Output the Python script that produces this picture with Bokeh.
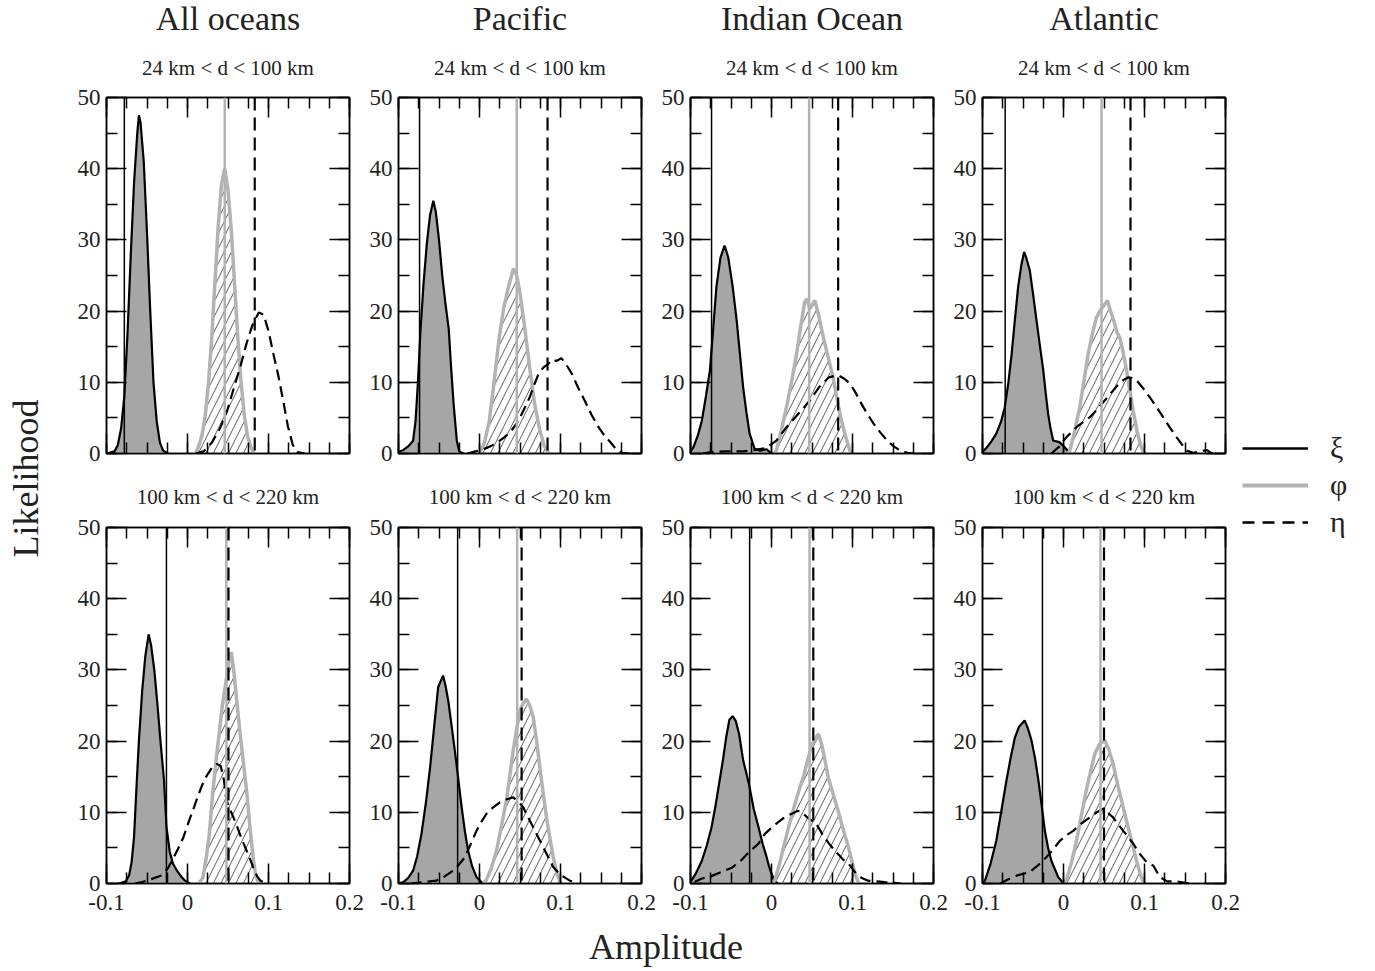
import math
from bokeh.plotting import figure
from bokeh.layouts import row, column
from bokeh.models import (Range1d, FixedTicker, LinearAxis, Span, Legend,
                          LegendItem)
from bokeh.core.properties import value
from bokeh.embed import file_html
from bokeh.resources import INLINE

FONT = "Liberation Serif"

OCEANS = ["All oceans", "Pacific", "Indian Ocean", "Atlantic"]
BANDS = ["24 km < d < 100 km", "100 km < d < 220 km"]
X_TICKS = [-0.1, 0, 0.1, 0.2]
X_TICK_LABELS = ["-0.1", "0", "0.1", "0.2"]
X_MINOR = [-0.1, -0.075, -0.05, -0.025, 0, 0.025, 0.05, 0.075, 0.1, 0.125, 0.15, 0.175, 0.2]
Y_TICKS = [0, 10, 20, 30, 40, 50]
Y_MINOR = [0, 5, 10, 15, 20, 25, 30, 35, 40, 45, 50]
SYMBOLS = ["ξ", "φ", "η"]
X_LABEL = "Amplitude"
Y_LABEL = "Likelihood"

# vertical reference values: [row][column]
XI_REF = [[-0.078, -0.074, -0.074, -0.072], [-0.026, -0.027, -0.027, -0.026]]
PHI_REF = [[0.046, 0.046, 0.0465, 0.047], [0.048, 0.0465, 0.047, 0.0457]]
ETA_REF = [[0.083, 0.084, 0.0823, 0.0827], [0.0506, 0.052, 0.0516, 0.050]]

# ---------------- 24 km < d < 100 km ----------------
XI_ALL_24_X = [-0.100, -0.090, -0.086, -0.082, -0.078, -0.074, -0.070, -0.066, -0.062, -0.060, -0.058, -0.054, -0.050, -0.046, -0.042, -0.038, -0.034, -0.030, -0.024]
XI_ALL_24_Y = [0, 0.3, 1.2, 3.5, 8, 17, 28, 38, 45, 47.5, 46.5, 41, 31, 20, 10, 4.5, 1.5, 0.4, 0]
PHI_ALL_24_X = [0.010, 0.014, 0.018, 0.022, 0.026, 0.030, 0.034, 0.038, 0.042, 0.046, 0.050, 0.054, 0.058, 0.062, 0.066, 0.070, 0.074, 0.078, 0.082]
PHI_ALL_24_Y = [0, 1.1, 2.6, 5.4, 10, 16.4, 24.3, 32, 37.8, 40, 37, 31.5, 24, 16.5, 10.2, 5.5, 2.5, 1, 0]
ETA_ALL_24_X = [0.010, 0.020, 0.030, 0.040, 0.049, 0.058, 0.065, 0.073, 0.080, 0.088, 0.094, 0.100, 0.106, 0.112, 0.118, 0.124, 0.130, 0.136, 0.145]
ETA_ALL_24_Y = [0, 0.3, 1.5, 3.5, 6, 9.5, 12.1, 15.5, 18, 19.8, 19.5, 17.2, 14, 11, 7.5, 3.8, 1.2, 0.2, 0]

XI_PAC_24_X = [-0.100, -0.094, -0.088, -0.082, -0.079, -0.076, -0.073, -0.069, -0.065, -0.061, -0.057, -0.054, -0.050, -0.046, -0.042, -0.038, -0.035, -0.032, -0.028, -0.025, -0.020]
XI_PAC_24_Y = [0.2, 0.5, 1, 1.8, 4.5, 10, 17, 24, 29.5, 33.5, 35.5, 34, 30, 25, 21, 17.5, 12, 7, 1.8, 0.3, 0]
PHI_PAC_24_X = [0.000, 0.006, 0.012, 0.018, 0.024, 0.030, 0.036, 0.042, 0.046, 0.050, 0.056, 0.062, 0.068, 0.074, 0.080, 0.086]
PHI_PAC_24_Y = [0, 1.5, 4.5, 10, 16, 20.5, 23.5, 26, 25, 22.5, 17.5, 12, 7, 3.5, 1, 0]
ETA_PAC_24_X = [-0.015, -0.005, 0.005, 0.015, 0.025, 0.031, 0.040, 0.048, 0.055, 0.062, 0.068, 0.073, 0.079, 0.085, 0.090, 0.095, 0.101, 0.107, 0.114, 0.122, 0.130, 0.138, 0.147, 0.155, 0.163, 0.170, 0.176, 0.185]
ETA_PAC_24_Y = [0, 0.3, 0.6, 1.1, 1.8, 2.3, 3.3, 4.6, 6.2, 7.9, 9.8, 11.2, 12.1, 12.6, 13.2, 13.0, 13.4, 12.5, 11.2, 9.2, 7.4, 5.5, 3.7, 2.4, 1.4, 0.4, 0.1, 0]

XI_IND_24_X = [-0.100, -0.096, -0.091, -0.086, -0.081, -0.076, -0.072, -0.068, -0.063, -0.058, -0.0535, -0.048, -0.043, -0.039, -0.035, -0.031, -0.027, -0.021, -0.014, -0.006, 0.000]
XI_IND_24_Y = [0.2, 1, 2.5, 4.6, 8, 11.7, 17.5, 23.4, 27.5, 29.2, 27.6, 23.5, 18.7, 14, 9.3, 5.8, 2.8, 0.7, 0.4, 0.6, 0]
PHI_IND_24_X = [0.003, 0.006, 0.012, 0.0185, 0.025, 0.031, 0.036, 0.041, 0.044, 0.047, 0.050, 0.0535, 0.058, 0.064, 0.070, 0.076, 0.081, 0.0864, 0.092, 0.0967, 0.100]
PHI_IND_24_Y = [0, 0.4, 3.2, 6.5, 10.2, 14, 17.8, 21.3, 21.7, 20.3, 20.8, 21.5, 19.5, 16.3, 13.5, 10.7, 7.6, 4.6, 2.2, 0.4, 0]
ETA_IND_24_X = [-0.085, -0.075, -0.055, -0.035, -0.020, -0.006, 0.006, 0.0185, 0.031, 0.039, 0.047, 0.0587, 0.071, 0.0823, 0.090, 0.097, 0.103, 0.109, 0.117, 0.126, 0.134, 0.143, 0.151, 0.159, 0.168, 0.175]
ETA_IND_24_Y = [0, 0.2, 0.3, 0.3, 0.5, 0.8, 1.8, 3.7, 5.3, 6.3, 7.4, 9.3, 10.7, 11, 10.5, 9.8, 8.7, 7.4, 5.8, 4.2, 3, 1.8, 1, 0.4, 0.1, 0]

XI_ATL_24_X = [-0.100, -0.095, -0.089, -0.083, -0.077, -0.0725, -0.068, -0.064, -0.060, -0.056, -0.052, -0.0486, -0.046, -0.0416, -0.0375, -0.0333, -0.029, -0.025, -0.022, -0.019, -0.016, -0.0127, -0.005, 0.002, 0.008]
XI_ATL_24_Y = [0.2, 0.8, 1.7, 2.8, 4.5, 6.5, 10, 14, 18.8, 23.4, 26.5, 28.3, 27.5, 25.7, 22.3, 18.7, 15, 11.7, 8.5, 5.6, 3.5, 1.8, 1.6, 0.8, 0]
PHI_ATL_24_X = [0.005, 0.0078, 0.014, 0.020, 0.025, 0.0305, 0.036, 0.0407, 0.046, 0.050, 0.0543, 0.058, 0.062, 0.066, 0.0695, 0.074, 0.0778, 0.082, 0.086, 0.091, 0.096, 0.100]
PHI_ATL_24_Y = [0, 0.4, 3.2, 6.5, 10, 14, 17, 19.1, 20.2, 20.8, 21.5, 20, 18.7, 17, 16.3, 14, 11.7, 8.8, 6, 3, 0.9, 0]
ETA_ATL_24_X = [-0.015, -0.005, 0.0037, 0.010, 0.016, 0.024, 0.0325, 0.041, 0.049, 0.055, 0.061, 0.067, 0.0737, 0.080, 0.085, 0.090, 0.098, 0.1066, 0.115, 0.123, 0.131, 0.1395, 0.146, 0.152, 0.160, 0.170, 0.1765, 0.182, 0.190]
ETA_ATL_24_Y = [0, 1, 2.3, 3, 3.7, 4.4, 5.1, 6.1, 7.2, 8, 8.8, 9.6, 10.3, 10.7, 10.6, 10.3, 9.2, 7.9, 6.5, 5.1, 3.7, 2.3, 1.3, 0.4, 0.1, 0.3, 0.5, 0.1, 0]

# ---------------- 100 km < d < 220 km ----------------
XI_ALL_100_X = [-0.085, -0.076, -0.072, -0.069, -0.066, -0.063, -0.060, -0.056, -0.052, -0.048, -0.045, -0.041, -0.037, -0.033, -0.029, -0.026, -0.022, -0.018, -0.013, -0.008, -0.003, 0.003]
XI_ALL_100_Y = [0, 0.3, 1.2, 3, 6.5, 13.5, 20, 27, 32, 35, 33.5, 30, 25, 19.5, 14.5, 8, 4.5, 2.8, 1.8, 1, 0.4, 0]
PHI_ALL_100_X = [0.014, 0.019, 0.023, 0.027, 0.031, 0.035, 0.039, 0.043, 0.047, 0.051, 0.054, 0.057, 0.061, 0.065, 0.069, 0.073, 0.077, 0.081, 0.084, 0.088]
PHI_ALL_100_Y = [0, 0.8, 3.5, 7, 12.5, 17, 21, 25, 28, 31, 32.5, 30, 25.5, 21, 17, 13, 8, 3.7, 1.2, 0]
ETA_ALL_100_X = [-0.065, -0.056, -0.045, -0.033, -0.025, -0.019, -0.012, -0.005, 0.001, 0.008, 0.013, 0.018, 0.024, 0.030, 0.036, 0.041, 0.045, 0.048, 0.054, 0.060, 0.066, 0.073, 0.078, 0.081, 0.086, 0.090, 0.098]
ETA_ALL_100_Y = [0, 0.2, 0.6, 1.1, 2, 3.2, 4.8, 6.5, 8.5, 10.7, 12.3, 13.8, 15.2, 16.2, 16.8, 16.5, 14.5, 11.7, 10, 8.4, 6.5, 4.6, 3.2, 2.3, 1, 0.4, 0]

XI_PAC_100_X = [-0.100, -0.094, -0.088, -0.082, -0.077, -0.0716, -0.066, -0.061, -0.056, -0.051, -0.045, -0.042, -0.0386, -0.0345, -0.0305, -0.026, -0.022, -0.018, -0.014, -0.009, -0.0037, 0.004]
XI_PAC_100_Y = [0, 0.2, 0.8, 1.8, 3.8, 7, 11.5, 16.3, 22, 27.6, 29.2, 27.8, 25.7, 22.2, 18.7, 14.5, 10.7, 7.3, 4.6, 2.4, 0.9, 0]
PHI_PAC_100_X = [0.005, 0.0086, 0.015, 0.021, 0.027, 0.0333, 0.0375, 0.0416, 0.046, 0.0498, 0.054, 0.058, 0.062, 0.0663, 0.0705, 0.0745, 0.0786, 0.0827, 0.087, 0.091, 0.095, 0.099, 0.102]
PHI_PAC_100_Y = [0, 0.5, 2.3, 4.6, 8, 11.7, 15.2, 18.7, 21.7, 24.3, 25.3, 25.9, 25, 23.4, 20, 16.3, 12.7, 9.3, 6.3, 3.7, 1.7, 0.3, 0]
ETA_PAC_100_X = [-0.085, -0.070, -0.053, -0.043, -0.0325, -0.025, -0.018, -0.011, -0.0037, 0.0025, 0.0086, 0.017, 0.025, 0.033, 0.0416, 0.048, 0.054, 0.060, 0.0663, 0.0725, 0.0786, 0.085, 0.091, 0.100, 0.1116, 0.120]
ETA_PAC_100_Y = [0, 0.2, 0.4, 1, 1.8, 2.7, 3.7, 5.5, 7.4, 8.7, 9.8, 10.7, 11.4, 11.8, 12.1, 11.5, 10.7, 9.3, 7.9, 6.5, 5.1, 3.7, 2.3, 1.2, 0.4, 0]

XI_IND_100_X = [-0.100, -0.093, -0.086, -0.080, -0.074, -0.069, -0.064, -0.060, -0.056, -0.052, -0.048, -0.044, -0.040, -0.035, -0.031, -0.027, -0.022, -0.016, -0.011, -0.006, -0.003, 0.000, 0.004, 0.008]
XI_IND_100_Y = [0.2, 1.5, 3.2, 5.3, 7.9, 11, 14.5, 17.3, 20.5, 23, 23.5, 22.8, 21, 17.3, 15.5, 13.5, 10.5, 7.9, 5.6, 3.7, 2.4, 1.4, 0.3, 0]
PHI_IND_100_X = [0.000, 0.004, 0.010, 0.016, 0.022, 0.029, 0.035, 0.040, 0.045, 0.050, 0.055, 0.058, 0.062, 0.066, 0.070, 0.076, 0.082, 0.088, 0.095, 0.100, 0.104, 0.108]
PHI_IND_100_Y = [0, 0.4, 2.8, 5.6, 8.3, 11.2, 13.5, 15.2, 17.5, 19.5, 20.5, 21, 19.5, 17.3, 14.9, 12.6, 10.3, 7.8, 5.1, 2.8, 1, 0]
ETA_IND_100_X = [-0.095, -0.086, -0.075, -0.062, -0.049, -0.037, -0.027, -0.016, -0.008, 0.001, 0.008, 0.016, 0.025, 0.032, 0.037, 0.043, 0.050, 0.054, 0.063, 0.071, 0.080, 0.088, 0.095, 0.103, 0.111, 0.119, 0.130, 0.140, 0.152, 0.160]
ETA_IND_100_Y = [0.2, 0.7, 1, 1.6, 2.2, 3.3, 4.5, 5.6, 7, 7.9, 8.6, 9.3, 9.8, 10.2, 10.1, 9.4, 8.8, 8.6, 6.9, 5.6, 4.4, 3.4, 2.8, 1.6, 0.8, 0.4, 0.3, 0.2, 0.1, 0]

XI_ATL_100_X = [-0.100, -0.097, -0.090, -0.083, -0.077, -0.0704, -0.065, -0.060, -0.055, -0.048, -0.044, -0.0395, -0.035, -0.031, -0.027, -0.023, -0.019, -0.015, -0.0065, 0.000]
XI_ATL_100_Y = [0, 0.4, 2.8, 6, 10, 14.5, 17.8, 20.5, 22, 22.9, 21.8, 20.1, 17.5, 14.5, 11, 7.4, 5, 3.2, 0.9, 0]
PHI_ATL_100_X = [0.000, 0.0037, 0.010, 0.016, 0.022, 0.028, 0.034, 0.0386, 0.044, 0.051, 0.056, 0.0613, 0.067, 0.0737, 0.080, 0.086, 0.091, 0.096, 0.100]
PHI_ATL_100_Y = [0, 0.5, 3, 6, 9.5, 13, 16, 18.2, 19.5, 20.1, 18.8, 16.8, 13.8, 10.7, 7.8, 5.1, 2.8, 0.9, 0]
ETA_ATL_100_X = [-0.078, -0.070, -0.058, -0.042, -0.031, -0.021, -0.012, -0.0045, 0.004, 0.012, 0.022, 0.0325, 0.041, 0.049, 0.055, 0.061, 0.067, 0.0737, 0.080, 0.086, 0.094, 0.1025, 0.111, 0.119, 0.128, 0.140, 0.150, 0.160]
ETA_ATL_100_Y = [0, 0.5, 1.1, 1.6, 2.6, 3.7, 4.9, 6, 6.8, 7.4, 8.4, 9.3, 10, 10.5, 9.9, 9.3, 8.4, 7.4, 6.5, 5.6, 4.2, 3, 2.5, 0.9, 0.3, 0.3, 0.1, 0]

CURVES = [
    [
        ((XI_ALL_24_X, XI_ALL_24_Y), (PHI_ALL_24_X, PHI_ALL_24_Y), (ETA_ALL_24_X, ETA_ALL_24_Y)),
        ((XI_PAC_24_X, XI_PAC_24_Y), (PHI_PAC_24_X, PHI_PAC_24_Y), (ETA_PAC_24_X, ETA_PAC_24_Y)),
        ((XI_IND_24_X, XI_IND_24_Y), (PHI_IND_24_X, PHI_IND_24_Y), (ETA_IND_24_X, ETA_IND_24_Y)),
        ((XI_ATL_24_X, XI_ATL_24_Y), (PHI_ATL_24_X, PHI_ATL_24_Y), (ETA_ATL_24_X, ETA_ATL_24_Y)),
    ],
    [
        ((XI_ALL_100_X, XI_ALL_100_Y), (PHI_ALL_100_X, PHI_ALL_100_Y), (ETA_ALL_100_X, ETA_ALL_100_Y)),
        ((XI_PAC_100_X, XI_PAC_100_Y), (PHI_PAC_100_X, PHI_PAC_100_Y), (ETA_PAC_100_X, ETA_PAC_100_Y)),
        ((XI_IND_100_X, XI_IND_100_Y), (PHI_IND_100_X, PHI_IND_100_Y), (ETA_IND_100_X, ETA_IND_100_Y)),
        ((XI_ATL_100_X, XI_ATL_100_Y), (PHI_ATL_100_X, PHI_ATL_100_Y), (ETA_ATL_100_X, ETA_ATL_100_Y)),
    ],
]

XI_FILL = "#a6a6a6"
PHI_COLOR = "#b3b3b3"
ETA_DASH = "11 6"
TICK_FONT_SIZE = "23px"
TEXT_COLOR = "#222222"

# layout geometry (pixels)
FRAME_W, FRAME_H = 243, 356
BORDER_L, BORDER_R = 34, 15
BORDER_V = 16
PANEL_W = BORDER_L + FRAME_W + BORDER_R
GRID_W = 4 * PANEL_W
COL_CENTERS = [BORDER_L + FRAME_W / 2 + PANEL_W * c for c in range(4)]


def style_axis(ax, ticks, minor, show_labels, standoff=10, overrides=None):
    ax.ticker = FixedTicker(ticks=ticks, minor_ticks=minor)
    ax.major_tick_in = 20
    ax.major_tick_out = 0
    ax.minor_tick_in = 11
    ax.minor_tick_out = 0
    ax.axis_line_color = "black"
    ax.axis_line_width = 1.5
    ax.major_tick_line_color = "black"
    ax.major_tick_line_width = 1.5
    ax.minor_tick_line_color = "black"
    ax.minor_tick_line_width = 1.5
    ax.major_label_text_font = FONT
    if show_labels:
        ax.major_label_text_font_size = TICK_FONT_SIZE
        ax.major_label_text_color = TEXT_COLOR
        ax.major_label_standoff = standoff
        if overrides:
            ax.major_label_overrides = overrides
    else:
        ax.major_label_text_font_size = "1px"
        ax.major_label_text_color = None
        ax.major_label_standoff = 0


def make_panel(r, c):
    top = r == 0
    p = figure(frame_width=FRAME_W, frame_height=FRAME_H,
               x_range=Range1d(-0.1, 0.2), y_range=Range1d(0, 50),
               x_axis_type=None, y_axis_type=None,
               output_backend="svg", toolbar_location=None,
               min_border_left=BORDER_L, min_border_right=BORDER_R,
               min_border_top=BORDER_V, min_border_bottom=BORDER_V if top else 42)
    p.outline_line_color = "black"
    p.outline_line_width = 1.5
    p.background_fill_color = "white"
    p.border_fill_color = "white"

    xover = {t: s for t, s in zip(X_TICKS, X_TICK_LABELS)}
    bottom = LinearAxis()
    style_axis(bottom, X_TICKS, X_MINOR, not top, standoff=11, overrides=xover)
    p.add_layout(bottom, "below")
    left = LinearAxis()
    style_axis(left, Y_TICKS, Y_MINOR, True, standoff=6)
    p.add_layout(left, "left")
    above = LinearAxis()
    style_axis(above, X_TICKS, X_MINOR, False)
    p.add_layout(above, "above")
    right = LinearAxis()
    style_axis(right, Y_TICKS, Y_MINOR, False)
    p.add_layout(right, "right")

    (xx, xy), (fx, fy), (ex, ey) = CURVES[r][c]
    p.varea(x=xx, y1=0, y2=xy, fill_color=XI_FILL)
    p.varea(x=fx, y1=0, y2=fy, fill_color=None, hatch_pattern="/",
            hatch_color="#333333", hatch_weight=0.8, hatch_scale=15)
    p.line(xx, xy, line_color="black", line_width=2.2)
    p.line(fx, fy, line_color=PHI_COLOR, line_width=3.5)
    p.line(ex, ey, line_color="black", line_width=2.2, line_dash=ETA_DASH)

    p.add_layout(Span(location=XI_REF[r][c], dimension="height",
                      line_color="black", line_width=1.5))
    p.add_layout(Span(location=PHI_REF[r][c], dimension="height",
                      line_color=PHI_COLOR, line_width=2.5))
    p.add_layout(Span(location=ETA_REF[r][c], dimension="height",
                      line_color="black", line_width=2.2, line_dash="13 7"))
    return p


def blank(width, height):
    f = figure(width=width, height=height, x_range=Range1d(0, width),
               y_range=Range1d(0, height), x_axis_type=None, y_axis_type=None,
               min_border=0, output_backend="svg", toolbar_location=None)
    f.outline_line_color = None
    f.background_fill_color = "white"
    f.border_fill_color = "white"
    return f


# header above the top row: ocean names and distance band
HEAD1_H = 97 - BORDER_V
head1 = blank(GRID_W, HEAD1_H)
head1.text(x=COL_CENTERS, y=[HEAD1_H - 18] * 4, text=OCEANS,
           text_font=value(FONT), text_font_size="34px", text_color=TEXT_COLOR,
           text_align="center", text_baseline="middle")
head1.text(x=COL_CENTERS, y=[HEAD1_H - 67] * 4, text=[BANDS[0]] * 4,
           text_font=value(FONT), text_font_size="21px", text_color=TEXT_COLOR,
           text_align="center", text_baseline="middle")

# header between the rows: distance band
HEAD2_H = 527 - 453 - 2 * BORDER_V
head2 = blank(GRID_W, HEAD2_H)
head2.text(x=COL_CENTERS, y=[HEAD2_H - (496 - 453 - BORDER_V)] * 4, text=[BANDS[1]] * 4,
           text_font=value(FONT), text_font_size="21px", text_color=TEXT_COLOR,
           text_align="center", text_baseline="middle")

top_figs = [make_panel(0, c) for c in range(4)]
bot_figs = [make_panel(1, c) for c in range(4)]

SIDE_H = 925
YLAB_W = 106 - BORDER_L

# y-axis label
ylab = blank(YLAB_W, SIDE_H)
ylab.text(x=[25], y=[SIDE_H - 478], text=[Y_LABEL], angle=math.pi / 2,
          text_font=value(FONT), text_font_size="36px", text_color=TEXT_COLOR,
          text_align="center", text_baseline="middle")

# x-axis label
XLAB_H = 42
xlab = blank(GRID_W, XLAB_H)
xlab.text(x=[GRID_W / 2 + (BORDER_L - BORDER_R) / 2], y=[21], text=[X_LABEL],
          text_font=value(FONT), text_font_size="36px", text_color=TEXT_COLOR,
          text_align="center", text_baseline="middle")

# legend
NAN = float("nan")
lg = figure(width=129, height=SIDE_H, x_range=Range1d(0, 1), y_range=Range1d(0, 1),
            x_axis_type=None, y_axis_type=None, min_border=0,
            output_backend="svg", toolbar_location=None)
lg.outline_line_color = None
r_xi = lg.line(x=[NAN], y=[NAN], line_color="black", line_width=2.5)
r_phi = lg.line(x=[NAN], y=[NAN], line_color=PHI_COLOR, line_width=4)
r_eta = lg.line(x=[NAN], y=[NAN], line_color="black", line_width=2.5, line_dash="12 8")
legend = Legend(items=[LegendItem(label=SYMBOLS[0], renderers=[r_xi]),
                       LegendItem(label=SYMBOLS[1], renderers=[r_phi]),
                       LegendItem(label=SYMBOLS[2], renderers=[r_eta])],
                location=(2, 386), orientation="vertical",
                glyph_width=66, glyph_height=30, label_height=30,
                spacing=3, padding=0, margin=0, label_standoff=22,
                background_fill_alpha=0, border_line_color=None,
                label_text_font=FONT, label_text_font_size="30px",
                label_text_color=TEXT_COLOR)
lg.add_layout(legend, "center")

grid = column(head1, row(*top_figs), head2, row(*bot_figs), xlab)
layout = row(ylab, grid, lg)

open("out.html", "w").write(file_html(layout, INLINE))
